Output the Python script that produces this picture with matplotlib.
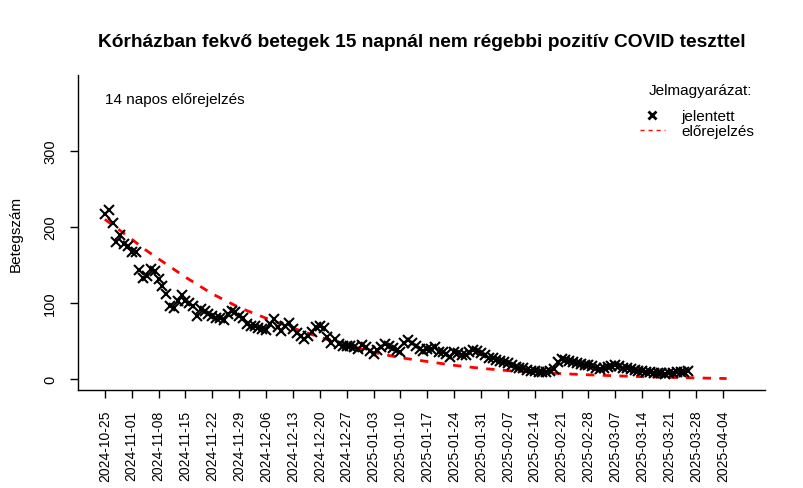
import matplotlib
matplotlib.use("Agg")
import matplotlib.pyplot as plt
from matplotlib.lines import Line2D
import numpy as np
import pandas as pd

plt.rcParams['font.family'] = ['Liberation Sans', 'DejaVu Sans']

title = "Kórházban fekvő betegek 15 napnál nem régebbi pozitív COVID teszttel"
ylabel = "Betegszám"
note = "14 napos előrejelzés"
legend_title = "Jelmagyarázat:"
label_obs = "jelentett"
label_fc = "előrejelzés"

obs_start = "2024-10-25"
observed = [217, 222, 205, 180, 190, 178, 175, 167, 167, 144,
            133, 136, 145, 142, 132, 123, 112, 96, 93, 103,
            110, 103, 100, 96, 83, 92, 90, 85, 83, 80,
            80, 77, 85, 90, 88, 83, 80, 72, 70, 70,
            67, 66, 64, 72, 79, 68, 63, 70, 74, 66,
            61, 57, 53, 57, 62, 68, 70, 67, 55, 48,
            53, 46, 44, 44, 43, 42, 40, 45, 42, 37,
            33, 38, 42, 46, 44, 41, 38, 36, 48, 51,
            47, 44, 40, 37, 39, 40, 42, 36, 35, 33,
            29, 36, 34, 32, 31, 36, 38, 37, 34, 31,
            28, 27, 25, 24, 22, 21, 18, 16, 15, 14,
            12, 11, 10, 9, 9, 9, 11, 13, 22, 26,
            25, 24, 23, 21, 20, 19, 18, 17, 14, 13,
            15, 16, 17, 18, 17, 15, 14, 13, 12, 11,
            10, 9, 9, 8, 8, 8, 7, 8, 8, 9,
            9, 9, 10]

fc_dates = ["2024-10-25", "2024-10-28", "2024-11-01", "2024-11-04", "2024-11-08",
            "2024-11-15", "2024-11-22", "2024-11-29", "2024-12-06", "2024-12-13",
            "2024-12-20", "2024-12-27", "2025-01-03", "2025-01-10", "2025-01-17",
            "2025-01-24", "2025-01-31", "2025-02-07", "2025-02-14", "2025-02-21",
            "2025-02-28", "2025-03-07", "2025-03-14", "2025-03-21", "2025-03-28",
            "2025-04-05"]
forecast = [210, 199, 184, 172, 158,
            134, 112, 94, 80, 67,
            55, 45, 35, 28, 23,
            18, 14, 11, 9, 7,
            5.5, 4.2, 3, 2.2, 1.4,
            0.6]

tick_labels = ["2024-10-25", "2024-11-01", "2024-11-08", "2024-11-15", "2024-11-22",
               "2024-11-29", "2024-12-06", "2024-12-13", "2024-12-20", "2024-12-27",
               "2025-01-03", "2025-01-10", "2025-01-17", "2025-01-24", "2025-01-31",
               "2025-02-07", "2025-02-14", "2025-02-21", "2025-02-28", "2025-03-07",
               "2025-03-14", "2025-03-21", "2025-03-28", "2025-04-04"]
y_ticks = [0, 100, 200, 300]

obs_x = pd.date_range(obs_start, periods=len(observed), freq="D")
fc_x = pd.to_datetime(fc_dates)
tick_x = pd.to_datetime(tick_labels)

fig = plt.figure(figsize=(8.04, 4.89), dpi=100)
ax = fig.add_axes([0.097, 0.2004, 0.8545, 0.6442])

ax.plot(fc_x, forecast, color="red", lw=2, linestyle=(0, (3, 3)), zorder=2)
ax.plot(obs_x, observed, linestyle="none", marker="x", color="black",
        markersize=6.5, markeredgewidth=1.5, zorder=3)

ax.set_xlim(pd.Timestamp("2024-10-18"), pd.Timestamp("2025-04-15"))
ax.set_ylim(-14.5, 400)

ax.set_xticks(tick_x)
ax.set_xticklabels(tick_labels, rotation=90, fontsize=10)
ax.set_yticks(y_ticks)
ax.set_yticklabels([str(v) for v in y_ticks], rotation=90, va="center", fontsize=10.5)
ax.tick_params(axis="both", direction="out", length=6, width=1)
ax.tick_params(axis="x", pad=8)
ax.tick_params(axis="y", pad=9)

for s in ["top", "right"]:
    ax.spines[s].set_visible(False)
for s in ["left", "bottom"]:
    ax.spines[s].set_linewidth(1)

ax.set_ylabel(ylabel, fontsize=11)
ax.yaxis.set_label_coords(-0.081, 0.5)
fig.text(0.525, 0.914, title, ha="center", va="center", fontsize=13.8, fontweight="bold")
ax.text(0.039, 0.925, note, transform=ax.transAxes, ha="left", va="center", fontsize=11)

ax.text(0.981, 0.952, legend_title, transform=ax.transAxes, ha="right", va="center", fontsize=11)
h_obs = Line2D([], [], linestyle="none", marker="x", color="black", markersize=5.5, markeredgewidth=2)
h_fc = Line2D([], [], color="red", lw=1, linestyle=(0, (2.9, 2.9)))
ax.legend([h_obs, h_fc], [label_obs, label_fc], loc="upper left",
          bbox_to_anchor=(0.818, 0.892), frameon=False, fontsize=11,
          handlelength=1.64, handletextpad=1.05, labelspacing=0.06,
          borderpad=0, borderaxespad=0)

fig.savefig("out.png", dpi=100)
